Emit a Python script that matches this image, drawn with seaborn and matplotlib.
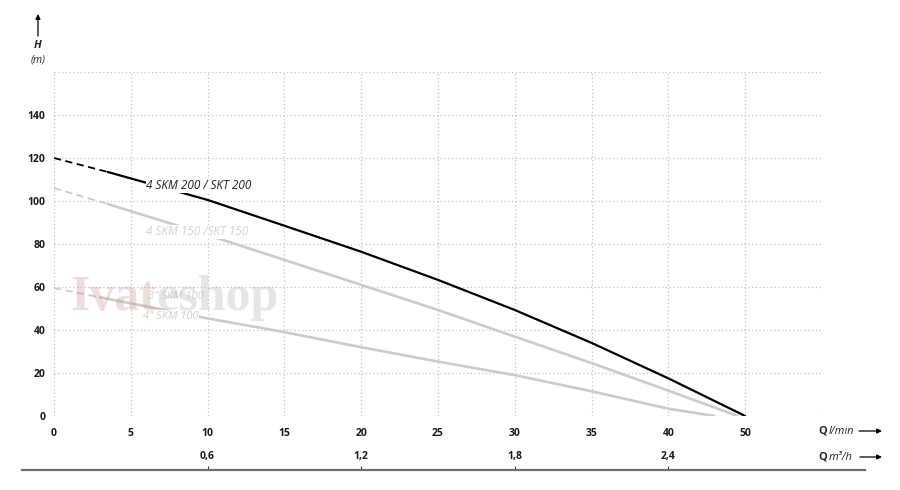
import numpy as np
import matplotlib
matplotlib.use("Agg")
import matplotlib.pyplot as plt
import seaborn as sns

# flow in l/min, head in m
flow_200 = [0, 3.5, 10, 15, 20, 25, 30, 35, 40, 50]
head_200 = [120, 113.5, 100.5, 88.5, 76.4, 63.3, 49.3, 34, 17.5, 0]

flow_150 = [0, 3.5, 10, 15, 20, 25, 30, 35, 40, 49]
head_150 = [106, 98.6, 84.2, 72.6, 61, 49.3, 36.9, 24.6, 11.8, 0]

flow_100 = [0, 3, 10, 15, 20, 25, 30, 35, 40, 46]
head_100 = [59.5, 55.2, 45.4, 39, 32, 25.3, 19, 11.5, 3.4, 0]

q_ticks = [0, 5, 10, 15, 20, 25, 30, 35, 40, 50, 60]
q_labels = ["0", "5", "10", "15", "20", "25", "30", "35", "40", "50", ""]
h_ticks = [0, 20, 40, 60, 80, 100, 120, 140, 160]
h_labels = ["0", "20", "40", "60", "80", "100", "120", "140", ""]
m3_ticks = [0.6, 1.2, 1.8, 2.4]
m3_labels = ["0,6", "1,2", "1,8", "2,4"]


def to_pos(q):
    # the grid is one cell per 5 l/min up to 40, then one cell per 10 l/min
    q = np.asarray(q, dtype=float)
    return np.where(q <= 40, q / 5, 8 + (q - 40) / 10)


def from_pos(p):
    p = np.asarray(p, dtype=float)
    return np.where(p <= 8, p * 5, 40 + (p - 8) * 10)


sns.set_theme(style="white")
plt.rcParams["font.family"] = ["Open Sans", "DejaVu Sans"]

W, H = 900, 490
fig = plt.figure(figsize=(9, 4.9), dpi=100)
x0, x1, y0, y1 = 54, 822, 416, 72
ax = fig.add_axes([x0 / W, 1 - y0 / H, (x1 - x0) / W, (y0 - y1) / H])
ax.set_xscale("function", functions=(to_pos, from_pos))
ax.set_xlim(0, 60)
ax.set_ylim(0, 160)

grid_kw = dict(color="#c4c4c4", linewidth=0.9, linestyle=(0, (1, 2)))
ax.set_xticks(q_ticks, q_labels)
ax.set_yticks(h_ticks, h_labels)
ax.grid(True, **grid_kw)
for s in ax.spines.values():
    s.set_visible(False)
ax.tick_params(axis="both", length=0, labelsize=7.5)
ax.tick_params(axis="x", pad=9)
ax.tick_params(axis="y", pad=6)
for t in ax.get_xticklabels() + ax.get_yticklabels():
    t.set_fontweight("bold")
    t.set_color("#1a1a1a")

grey = "#cbcbcb"
# dashed starts, solid curves
sns.lineplot(x=flow_200[:2], y=head_200[:2], ax=ax, color="black", linewidth=1.3,
             linestyle=(0, (4, 2.5)), legend=False, zorder=2)
sns.lineplot(x=flow_200[1:], y=head_200[1:], ax=ax, color="black", linewidth=1.6,
             legend=False, zorder=2.2)
sns.lineplot(x=flow_150[:2], y=head_150[:2], ax=ax, color=grey, linewidth=1.3,
             linestyle=(0, (4, 2.5)), legend=False, zorder=2)
sns.lineplot(x=flow_150[1:], y=head_150[1:], ax=ax, color=grey, linewidth=1.9,
             legend=False, zorder=2)
sns.lineplot(x=flow_100[:2], y=head_100[:2], ax=ax, color=grey, linewidth=1.3,
             linestyle=(0, (4, 2.5)), legend=False, zorder=2)
sns.lineplot(x=flow_100[1:], y=head_100[1:], ax=ax, color=grey, linewidth=1.9,
             legend=False, zorder=2)

box = dict(facecolor="white", edgecolor="none", pad=0.2)
lab = dict(fontsize=8.5, style="italic", va="center", zorder=4, bbox=box)
ax.text(6.0, 107, "4 SKM 200 / SKT 200", color="#222222", **lab)
ax.text(6.0, 85.6, "4 SKM 150 /SKT 150", color="#d4d4d4", **lab)
ax.text(6.1, 55.5, '3" SKM 100', color="#d6d6d6", fontsize=8, style="italic",
        va="center", zorder=4, bbox=box)
ax.text(5.8, 46.5, '4" SKM 100', color="#d0d0d0", fontsize=8, style="italic",
        va="center", zorder=4, bbox=box)

# watermark, semi-transparent over everything
wm = dict(fontsize=36, fontweight="bold", family="Liberation Serif", va="center",
          ha="left", zorder=6, transform=fig.transFigure)
t1 = fig.text(70 / W, 1 - 298 / H, "Ivat", color="#c98f8f", alpha=0.3, **wm)
fig.canvas.draw()
bb = t1.get_window_extent()
fig.text(bb.x1 / W, 1 - 298 / H, "eshop", color="#a8a8a8", alpha=0.28, **wm)

# second flow axis in m3/h
ax2_left, ax2_right, ax2_y = 22, 865, 470
pl = (ax2_left - x0) / ((x1 - x0) / 10)
pr = (ax2_right - x0) / ((x1 - x0) / 10)
ax2 = fig.add_axes([ax2_left / W, 1 - ax2_y / H, (ax2_right - ax2_left) / W, 0.0001])
ax2.set_xscale("function", functions=(lambda m: to_pos(np.asarray(m) / 0.06),
                                      lambda p: from_pos(p) * 0.06))
ax2.set_xlim(float(from_pos(pl)) * 0.06, float(from_pos(pr)) * 0.06)
ax2.set_yticks([])
ax2.set_facecolor("none")
for k in ["left", "right", "top"]:
    ax2.spines[k].set_visible(False)
ax2.spines["bottom"].set_color("#6e6e6e")
ax2.spines["bottom"].set_linewidth(1.6)
ax2.set_xticks(m3_ticks, m3_labels)
ax2.tick_params(axis="x", bottom=True, direction="in", length=3, width=0.8,
                color="#333333", labelbottom=False, labeltop=True, top=False,
                labelsize=7.5, pad=6)
for t in ax2.get_xticklabels():
    t.set_fontweight("bold")
    t.set_color("#1a1a1a")

# axis titles
fig.text(818 / W, 1 - 431 / H, "Q", fontsize=8, fontweight="bold", va="center")
fig.text(829 / W, 1 - 431 / H, "l/min", fontsize=8, style="italic", va="center")
fig.text(818 / W, 1 - 457 / H, "Q", fontsize=8, fontweight="bold", va="center")
fig.text(829 / W, 1 - 457 / H, "m³/h", fontsize=8, style="italic", va="center")
arrow = dict(arrowstyle="-|>", color="black", lw=0.9, mutation_scale=7,
             shrinkA=0, shrinkB=0)
for yy, xs in [(431, 859), (457, 860)]:
    ax.annotate("", xy=(882 / W, 1 - yy / H), xytext=(xs / W, 1 - yy / H),
                xycoords="figure fraction", textcoords="figure fraction",
                arrowprops=arrow)
ax.annotate("", xy=(38 / W, 1 - 14 / H), xytext=(38 / W, 1 - 36 / H),
            xycoords="figure fraction", textcoords="figure fraction",
            arrowprops=arrow)
fig.text(38 / W, 1 - 46 / H, "H", fontsize=8, fontweight="bold", style="italic",
         ha="center", va="center")
fig.text(38 / W, 1 - 60 / H, "(m)", fontsize=7.5, style="italic",
         ha="center", va="center")

fig.savefig("out.png", dpi=100, facecolor="white")
